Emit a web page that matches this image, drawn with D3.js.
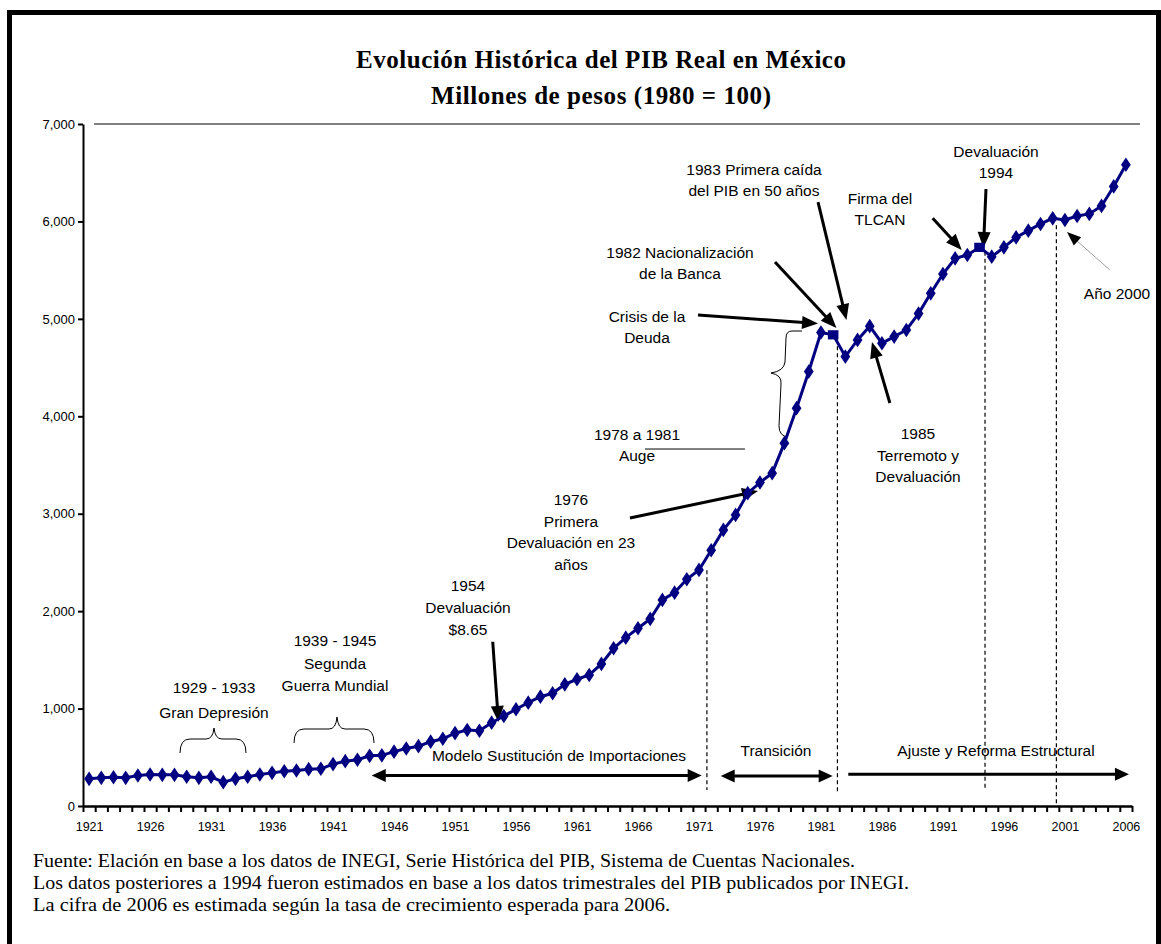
<!DOCTYPE html>
<html><head><meta charset="utf-8">
<script src="https://cdn.jsdelivr.net/npm/d3@7"></script>
<style>body{margin:0;background:#fff}</style>
</head><body>
<svg id="c" width="1161" height="944"></svg>
<script>
// ---------------- DATA ----------------
const years = d3.range(1921, 2007);
const pib = [
 279, 289, 295, 289, 313, 323, 320, 320, 300, 289,
 300, 245, 279, 300, 323, 340, 357, 364, 378, 382,
 430, 460, 475, 515, 520, 558, 590, 614, 660, 690,
 748, 780, 772, 855, 924, 993, 1061, 1122, 1157, 1249,
 1301, 1345, 1458, 1619, 1728, 1824, 1920, 2115, 2190, 2327,
 2423, 2625, 2834, 2988, 3211, 3320, 3416, 3724, 4083, 4459,
 4860, 4836, 4613, 4784, 4925, 4750, 4818, 4886, 5054, 5262,
 5460, 5621, 5655, 5734, 5638, 5734, 5837, 5905, 5974, 6032,
 6015, 6056, 6077, 6159, 6359, 6582
];
const squareYears = [1982, 1994];
const yTicks = [0, 1000, 2000, 3000, 4000, 5000, 6000, 7000];
const xLabelYears = years.filter(y => (y - 1921) % 5 === 0);
const titleLines = ["Evolución Histórica del PIB Real en México", "Millones de pesos (1980 = 100)"];
const notes = [
 "Fuente: Elación en base a los datos de INEGI, Serie Histórica del PIB, Sistema de Cuentas Nacionales.",
 "Los datos posteriores a 1994 fueron estimados en base a los datos trimestrales del PIB publicados por INEGI.",
 "La cifra de 2006 es estimada según la tasa de crecimiento esperada para 2006."
];
// event dashed lines: [year position, top value, bottom value]
const eventLines = [[1971.65, 2420, 164], [1982.35, 4790, 145], [1994.45, 5690, 164], [2000.3, 5960, 0]];
// period arrows: [from year, to year, value, double-headed]
const periodArrows = [[1944.17, 1971.22, 313, true], [1972.78, 1981.96, 308, true], [1983.24, 2006.25, 325, false]];
// annotation arrows: [fromYear, fromValue, toYear, toValue]
const noteArrows = [
 [1954.09, 1686, 1954.56, 862],
 [1965.34, 2956, 1975.84, 3233],
 [1970.92, 5039, 1980.76, 4952],
 [1977.23, 5583, 1982.27, 4906],
 [1980.76, 6199, 1983.09, 4988],
 [1986.65, 4136, 1985.18, 4762],
 [1990.16, 6032, 1992.54, 5707],
 [1994.53, 6333, 1994.32, 5727]
];
const greyArrow = [2004.69, 5501, 2001.17, 5891];
const augeLine = [1966.57, 3664, 1974.77, 3664];
// annotation texts: [lines, cx, cy, line height]
const labels = [
 [["1929 - 1933", "Gran Depresión"], 214, 688, 25],
 [["1939 - 1945", "Segunda", "Guerra Mundial"], 335, 641, 22.5],
 [["1954", "Devaluación", "$8.65"], 468, 586, 22],
 [["1976", "Primera", "Devaluación en 23", "años"], 571, 500, 21.5],
 [["1978 a  1981", "Auge"], 637, 435, 20.5],
 [["Crisis de la", "Deuda"], 647, 317, 21],
 [["1982 Nacionalización", "de la Banca"], 680, 253, 20.5],
 [["1983 Primera caída", "del PIB en 50 años"], 754, 170, 21],
 [["1985", "Terremoto y", "Devaluación"], 918, 434, 21.5],
 [["Firma del", "TLCAN"], 880, 199, 21],
 [["Devaluación", "1994"], 996, 152, 21],
 [["Año  2000"], 1117, 294, 0],
 [["Modelo Sustitución de Importaciones"], 559, 756, 0],
 [["Transición"], 776, 751, 0],
 [["Ajuste y Reforma Estructural"], 996, 751, 0]
];

// ---------------- CHART ----------------
const svg = d3.select("#c");
const sans = "Arial, 'Liberation Sans', sans-serif";
const serif = "'Times New Roman', 'Liberation Serif', serif";

svg.append("rect").attr("width", 1161).attr("height", 944).attr("fill", "#fff");
svg.append("rect").attr("x", 9.5).attr("y", 12.5).attr("width", 1149).attr("height", 1000)
  .attr("fill", "none").attr("stroke", "#000").attr("stroke-width", 5);

const x = d3.scaleLinear().domain([1920.5, 2006.5]).range([83, 1132]);
const y = d3.scaleLinear().domain([0, 7000]).range([806, 124]);
const data = years.map((yr, i) => ({ yr, v: pib[i] }));

// title
svg.selectAll("text.title").data(titleLines).join("text").attr("class", "title")
  .attr("x", 601).attr("y", (d, i) => 68 + i * 36)
  .attr("text-anchor", "middle").attr("font-family", serif).attr("font-weight", "bold")
  .attr("font-size", 25).attr("textLength", (d, i) => i === 0 ? 490 : 340)
  .attr("lengthAdjust", "spacing").text(d => d);

// top line at 7000
svg.append("line").attr("x1", 94).attr("x2", 1140).attr("y1", y(7000)).attr("y2", y(7000))
  .attr("stroke", "#000").attr("stroke-width", 1);

// y axis
const gy = svg.append("g").attr("transform", "translate(83,0)")
  .call(d3.axisLeft(y).tickValues(yTicks).tickSize(5).tickSizeOuter(0).tickPadding(3).tickFormat(d3.format(",")));
gy.select(".domain").attr("stroke-width", 2);
gy.selectAll(".tick line").attr("stroke-width", 2);
gy.selectAll("text").attr("font-family", sans).attr("font-size", 13).attr("fill", "#000");

// x axis: ticks at category boundaries
const gx = svg.append("g").attr("transform", "translate(0,806)")
  .call(d3.axisBottom(x).tickValues(d3.range(1920.5, 2007, 1)).tickSize(6).tickSizeOuter(0).tickFormat(""));
gx.select(".domain").attr("stroke-width", 2.5);
gx.selectAll(".tick line").attr("stroke-width", 2);
const gxl = svg.append("g").attr("transform", "translate(0,806)")
  .call(d3.axisBottom(x).tickValues(xLabelYears).tickSize(0).tickPadding(16).tickFormat(d3.format("d")));
gxl.select(".domain").remove();
gxl.selectAll("text").attr("font-family", sans).attr("font-size", 12.5).attr("fill", "#000");

// dashed event lines
svg.selectAll("line.ev").data(eventLines).join("line").attr("class", "ev")
  .attr("x1", d => x(d[0])).attr("x2", d => x(d[0]))
  .attr("y1", d => y(d[1])).attr("y2", d => y(d[2]))
  .attr("stroke", "#000").attr("stroke-width", 1.2).attr("stroke-dasharray", "4,3");

// arrow helper
function arrow(g, x1, y1, x2, y2, opt) {
  const o = Object.assign({ w: 2.6, hl: 14, hw: 12, col: "#000", head: "#000", both: false }, opt || {});
  const dx = x2 - x1, dy = y2 - y1, L = Math.hypot(dx, dy), ux = dx / L, uy = dy / L;
  const px = -uy, py = ux;
  const s = o.both ? o.hl * 0.9 : 0;
  g.append("line").attr("x1", x1 + ux * s).attr("y1", y1 + uy * s)
    .attr("x2", x2 - ux * o.hl * 0.9).attr("y2", y2 - uy * o.hl * 0.9)
    .attr("stroke", o.col).attr("stroke-width", o.w);
  const head = (tx, ty, vx, vy) => {
    const bx = tx - vx * o.hl, by = ty - vy * o.hl;
    g.append("path").attr("d", `M${tx},${ty}L${bx + px * o.hw / 2},${by + py * o.hw / 2}L${bx - px * o.hw / 2},${by - py * o.hw / 2}Z`)
      .attr("fill", o.head);
  };
  head(x2, y2, ux, uy);
  if (o.both) head(x1, y1, -ux, -uy);
}
const ga = svg.append("g");
noteArrows.forEach(d => arrow(ga, x(d[0]), y(d[1]), x(d[2]), y(d[3]), { w: 3, hl: 16, hw: 13 }));
arrow(ga, x(greyArrow[0]), y(greyArrow[1]), x(greyArrow[2]), y(greyArrow[3]), { w: 1, col: "#a0a0a0", hl: 14, hw: 11 });
periodArrows.forEach(d => arrow(ga, x(d[0]), y(d[2]), x(d[1]), y(d[2]), { w: 3, hl: 14, hw: 13, both: d[3] }));
ga.append("line").attr("x1", x(augeLine[0])).attr("x2", x(augeLine[2]))
  .attr("y1", y(augeLine[1])).attr("y2", y(augeLine[3])).attr("stroke", "#000").attr("stroke-width", 1);

// braces
const braces = [
  "M180,753 Q180,739 190,739 L206,739 Q213,739 214,728 Q215,739 222,739 L236,739 Q246,739 246,753",
  "M294,743 Q294,729 304,729 L329,729 Q336,729 337,717 Q338,729 345,729 L364,729 Q374,729 374,743",
  "M802,331 L792,331 Q786,331 786,338 L785,362 Q784,371 771,373 Q782,375 781,384 L779,426 Q779,436 788,437"
];
svg.selectAll("path.brace").data(braces).join("path").attr("class", "brace")
  .attr("d", d => d).attr("fill", "none").attr("stroke", "#000").attr("stroke-width", 1);

// series
svg.append("path").datum(data)
  .attr("d", d3.line().x(d => x(d.yr)).y(d => y(d.v)))
  .attr("fill", "none").attr("stroke", "#000080").attr("stroke-width", 3);
const diamond = d3.symbol(d3.symbolDiamond, 62)();
const square = d3.symbol(d3.symbolSquare, 85)();
svg.selectAll("path.pt").data(data).join("path").attr("class", "pt")
  .attr("transform", d => `translate(${x(d.yr)},${y(d.v)}) scale(1.15,1)`)
  .attr("d", d => squareYears.includes(d.yr) ? square : diamond)
  .attr("fill", "#000080");

// annotation labels
labels.forEach(([lines, cx, cy, lh]) => {
  const t = svg.append("text").attr("font-family", sans).attr("font-size", 15.5).attr("fill", "#000")
    .attr("text-anchor", "middle");
  lines.forEach((s, i) => t.append("tspan").attr("x", cx).attr("y", cy + i * lh).attr("dy", "0.35em").text(s));
});

// notes
const noteLen = [822, 876, 637];
svg.selectAll("text.note").data(notes).join("text").attr("class", "note")
  .attr("x", 33).attr("y", (d, i) => 866.5 + i * 22)
  .attr("font-family", serif).attr("font-size", 19).attr("fill", "#000")
  .attr("textLength", (d, i) => noteLen[i]).attr("lengthAdjust", "spacingAndGlyphs")
  .text(d => d);
</script>
</body></html>
